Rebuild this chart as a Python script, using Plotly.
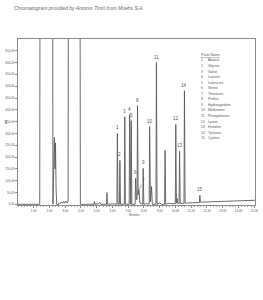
import plotly.graph_objects as go

# Chromatogram trace (minutes, signal)
trace_time = [0.00, 1.38, 1.41, 2.19, 2.22, 2.27, 2.31, 2.35, 2.38, 2.42, 2.46, 2.55, 2.62, 2.68,
              2.75, 2.82, 2.90, 2.97, 3.05, 3.12, 3.18, 3.21, 3.93, 3.96, 4.30, 4.50, 4.83, 4.86,
              4.89, 5.10, 5.20, 5.25, 5.62, 5.65, 5.68, 6.00, 6.28, 6.31, 6.35, 6.44, 6.47, 6.51,
              6.75, 6.78, 6.82, 7.06, 7.09, 7.13, 7.16, 7.19, 7.23, 7.44, 7.47, 7.52, 7.56, 7.59,
              7.63, 7.68, 7.74, 7.92, 7.95, 7.99, 8.15, 8.33, 8.36, 8.41, 8.48, 8.53, 8.76, 8.79,
              8.83, 9.00, 9.10, 9.31, 9.34, 9.38, 9.60, 9.99, 10.02, 10.06, 10.10, 10.14, 10.23,
              10.26, 10.30, 10.54, 10.57, 10.61, 11.00, 11.52, 11.55, 11.58, 12.00, 13.00, 14.00,
              15.05]
trace_signal = [0, 0, 1500, 1500, 0, 120, 283, 150, 260, 60, -2, -3, 6, 2,
                10, 4, 12, 5, 14, 6, 10, 1500, 1500, 0, 2, 0, 0, 12,
                0, 2, 8, 0, 0, 50, 0, 2, 0, 300, 0, 0, 186, 0,
                0, 371, 0, 0, 380, 0, 0, 354, 0, 0, 110, 20, 20, 418,
                40, 62, 5, 0, 152, 0, 3, 0, 329, 10, 75, 0, 0, 600,
                0, 6, 0, 0, 228, 0, 4, 2, 338, 5, 25, 4, 3,
                224, 4, 4, 481, 5, 6, 8, 38, 9, 10, 13, 15,
                17]

# Labelled peaks
peak_label = ["1", "2", "3", "4", "5", "6", "7", "8", "9", "10", "11", "12", "13", "14", "15"]
peak_time = [6.31, 6.47, 6.78, 7.09, 7.19, 7.47, 7.68, 7.59, 7.95, 8.36, 8.79, 10.02, 10.26, 10.57, 11.55]
peak_height = [300, 186, 371, 380, 354, 110, 62, 418, 152, 329, 600, 338, 224, 481, 38]

peak_names = ["Alanine", "Glycine", "Valine", "Leucine", "Isoleucine", "Serine", "Threonine",
              "Proline", "Hydroxyproline", "Methionine", "Phenylalanine", "Lysine", "Histidine",
              "Tyrosine", "Cystine"]

y_ticks = [0, 50, 100, 150, 200, 250, 300, 350, 400, 450, 500, 550, 600, 650]
x_ticks = [1, 2, 3, 4, 5, 6, 7, 8, 9, 10, 11, 12, 13, 14, 15]

TXT = "#555555"
fig = go.Figure()
fig.add_trace(go.Scatter(x=trace_time, y=trace_signal, mode="lines",
                         line=dict(color="#5a5a5a", width=0.9), hoverinfo="skip"))

ann = []
for lab, t, h in zip(peak_label, peak_time, peak_height):
    if lab == "7":
        ann.append(dict(x=t, y=h, xref="x", yref="y", text=lab, showarrow=True, arrowhead=0,
                        arrowwidth=0.6, arrowcolor="#666", ax=5, ay=-9, standoff=1,
                        font=dict(size=4.5, color=TXT)))
    else:
        ann.append(dict(x=t, y=h, xref="x", yref="y", text=lab, showarrow=False,
                        yanchor="bottom", yshift=1, font=dict(size=4.5, color=TXT)))

# legend (Peak Name table)
px_l, px_r, px_t, px_b = 14, 258, 39, 205
def xp(px):
    return (px - px_l) / (px_r - px_l)
def yp(py):
    return (px_b - py) / (px_b - px_t)

ann.append(dict(x=xp(200), y=yp(55), xref="paper", yref="paper", text="<u>Peak Name</u>",
                showarrow=False, xanchor="left", yanchor="middle", font=dict(size=3.6, color=TXT)))
for i, name in enumerate(peak_names):
    py = 60.5 + 5.55 * i
    ann.append(dict(x=xp(200), y=yp(py), xref="paper", yref="paper", text=str(i + 1),
                    showarrow=False, xanchor="left", yanchor="middle", font=dict(size=3.4, color=TXT)))
    ann.append(dict(x=xp(207.5), y=yp(py), xref="paper", yref="paper", text=name,
                    showarrow=False, xanchor="left", yanchor="middle", font=dict(size=3.4, color=TXT)))

ann.append(dict(x=xp(8), y=yp(8), xref="paper", yref="paper",
                text="<i>Chromatogram provided by Antonio Tintó from Moehs S.A.</i>",
                showarrow=False, xanchor="left", yanchor="middle", font=dict(size=5, color="#666")))
ann.append(dict(x=xp(133.5), y=yp(214.5), xref="paper", yref="paper", text="Minutes",
                showarrow=False, xanchor="center", yanchor="middle", font=dict(size=3, color=TXT)))
ann.append(dict(x=xp(2), y=yp(122), xref="paper", yref="paper", text="mV", textangle=-90,
                showarrow=False, xanchor="center", yanchor="middle", font=dict(size=3, color=TXT)))

fig.update_layout(
    width=263, height=300,
    margin=dict(l=px_l, r=263 - px_r, t=px_t, b=300 - px_b),
    paper_bgcolor="white", plot_bgcolor="white", showlegend=False,
    font=dict(family="Liberation Sans, Arial, sans-serif", color=TXT, size=3),
    annotations=ann,
    xaxis=dict(range=[0, 15.05], tickvals=x_ticks, ticktext=["%.2f" % v for v in x_ticks],
               ticks="outside", ticklen=2, tickwidth=0.5, tickcolor="#888",
               tickfont=dict(size=3, color=TXT), showgrid=False, zeroline=False,
               showline=True, linecolor="#8a8a8a", linewidth=0.8, mirror=True,
               minor=dict(ticks="outside", ticklen=1, dtick=0.2, tickcolor="#aaa", tickwidth=0.4)),
    yaxis=dict(range=[-3, 700], tickvals=y_ticks, ticktext=["%.2f" % v for v in y_ticks],
               ticks="outside", ticklen=2, tickwidth=0.5, tickcolor="#888",
               tickfont=dict(size=3, color=TXT), showgrid=False, zeroline=False,
               showline=True, linecolor="#8a8a8a", linewidth=0.8, mirror=True),
)

fig.write_html("out.html")
